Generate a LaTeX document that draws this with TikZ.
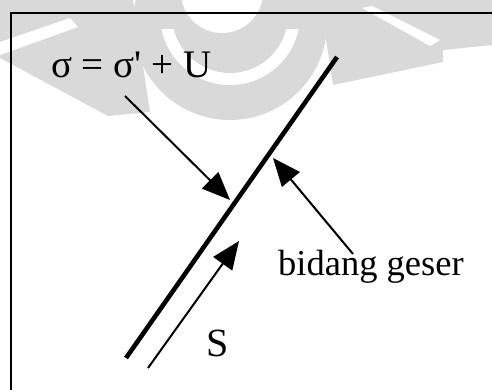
\documentclass[tikz,border=0pt]{standalone}
\usepackage{fontspec}
\setmainfont{Liberation Serif}
\usetikzlibrary{arrows.meta}

\begin{document}
\begin{tikzpicture}[x=1pt, y=-1pt,
  frame/.style={line width=1.5pt},
  plane/.style={line width=4.6pt},
  force/.style={line width=2pt, -{Triangle[length=28pt, width=23pt]}},
  lbl/.style={anchor=base west, inner sep=0pt, font=\fontsize{36.5}{40}\selectfont},
  wm/.style={fill=black!15, draw=none}]
\useasboundingbox (0,0) rectangle (492,390);
% faint watermark behind the figure
\fill[wm] (230,23) circle (97);
\begin{scope}
  \clip (0,30) rectangle (492,200);
  \fill[white] (230,15) circle (70);
  \fill[wm] (230,15) circle (58);
\end{scope}
\fill[white] (222,-8) circle (41);
\fill[wm] (0,0) -- (133,0) -- (150,112) -- (108,116) -- (0,58) -- cycle;
\fill[white] (0,42) -- (70,18) -- (78,27) -- (0,55) -- cycle;
\fill[wm] (320,0) -- (492,0) -- (492,45) -- (443,50) -- (443,62) -- (333,85) -- cycle;
\fill[white] (362,8) -- (372,6) -- (440,40) -- (430,46) -- cycle;
% frame (cut at right and bottom)
\draw[frame] (492,13) -- (11,13) -- (11,390);
% shear plane
\coordinate (planelo) at (126,358);
\coordinate (planehi) at (337,57);
\draw[plane] (planelo) -- (planehi);
% labels
\node[lbl, font=\fontsize{39}{44}\selectfont] (stress) at (51,78) {σ = σ\textquotesingle{} + U};
\node[lbl] (bidang) at (278,275) {bidang geser};
\node[lbl, font=\fontsize{40}{44}\selectfont] (shear) at (206,356) {S};
% arrows
\coordinate (sigtail) at (125,96);
\coordinate (sigtip) at (230,200);
\coordinate (bidtail) at (353,254);
\coordinate (bidtip) at (273,158);
\coordinate (stail) at (148,368);
\coordinate (stip) at (239,241);
\draw[force] (sigtail) -- (sigtip);
\draw[force] (bidtail) -- (bidtip);
\draw[force] (stail) -- (stip);
\end{tikzpicture}
\end{document}
